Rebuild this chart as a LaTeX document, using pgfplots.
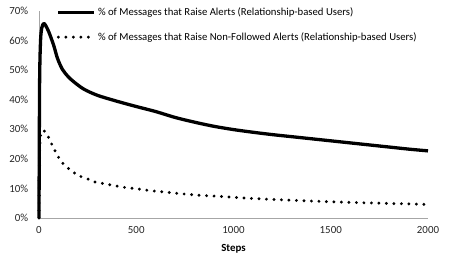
\documentclass[border=0pt]{standalone}
\usepackage{pgfplots}
\pgfplotsset{compat=1.18}
\usepackage{fontspec}
\setmainfont{Carlito}
\begin{document}
\fontsize{10.7}{13}\selectfont
\begin{tikzpicture}[x=1pt,y=1pt]
\path[use as bounding box] (-39pt,-58pt) rectangle (410pt,218pt);
\begin{axis}[
  scale only axis,
  width=389pt, height=207pt,
  xmin=0, xmax=2000, ymin=0, ymax=70,
  axis x line=bottom, axis y line=left,
  axis line style={draw=gray!70, line width=0.6pt, -},
  major tick length=0pt,
  xtick={0,500,1000,1500,2000},
  xticklabels={0,500,1000,1500,2000},
  ytick={0,10,20,30,40,50,60,70},
  yticklabels={0\%,10\%,20\%,30\%,40\%,50\%,60\%,70\%},
  tick label style={font=\fontsize{10.9}{13}\selectfont, text=black!85},
  yticklabel style={xshift=-7pt},
  xticklabel style={yshift=-5pt},
  xlabel={\textbf{Steps}},
  xlabel style={font=\fontsize{10.9}{13}\selectfont, yshift=-3pt},
  clip=false,
  legend style={draw=none, fill=none, at={(axis description cs:0.045,1.025)}, anchor=north west,
    font=\fontsize{10.7}{13}\selectfont, inner sep=0pt, row sep=11pt,
    legend cell align=left},
  legend image code/.code={\draw[#1] (0pt,0pt) -- (36pt,0pt);},
]
\addplot[black, line width=3.3pt, smooth, tension=0.5, line join=round] coordinates {
(0,0) (3,45) (8,60) (15,64.5) (25,65.8) (35,65) (50,63) (75,58.5) (95,54) (120,50.3)
(150,47.8) (180,46) (230,43.6) (300,41.5) (400,39.5) (500,37.7) (600,36) (700,34)
(800,32.4) (900,31) (1000,29.9) (1100,29) (1200,28.2) (1300,27.5) (1400,26.8)
(1500,26.1) (1600,25.4) (1700,24.7) (1800,24) (1900,23.3) (2000,22.7)
};
\addlegendentry{\% of Messages that Raise Alerts (Relationship-based Users)}
\addplot[black, line width=3.2pt, line cap=round, dash pattern=on 0pt off 7.5pt, smooth, tension=0.5] coordinates {
(0,0) (3,22) (8,28) (14,29.4) (25,29.5) (36,29) (53,26.7) (68,24.6) (86,22.3)
(103,20.2) (125,18.3) (154,16.6) (185,15.1) (216,14) (254,13.1) (288,12.2)
(360,11.3) (434,10.4) (511,9.8) (579,9.2) (656,8.7) (800,7.8) (957,7.2)
(1100,6.6) (1300,6.0) (1500,5.5) (1700,5.1) (1850,4.85) (2000,4.6)
};
\addlegendentry{\% of Messages that Raise Non-Followed Alerts (Relationship-based Users)}
\end{axis}
\end{tikzpicture}
\end{document}
